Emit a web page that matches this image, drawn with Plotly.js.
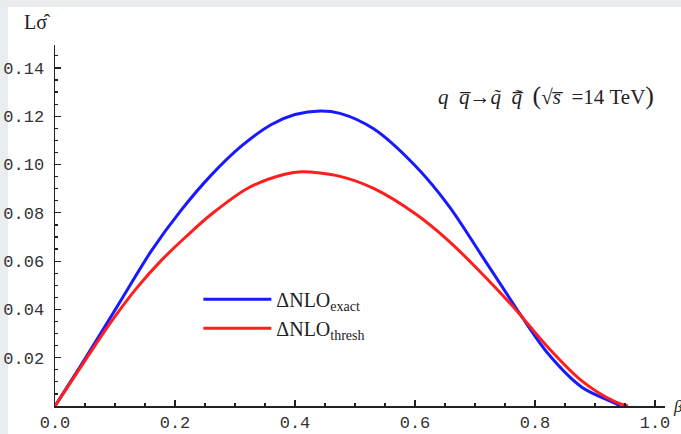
<!DOCTYPE html>
<html>
<head>
<meta charset="utf-8">
<script src="https://cdn.plot.ly/plotly-3.0.1.min.js"></script>
<style>html,body{margin:0;padding:0;background:#fff;}#chart{width:681px;height:434px;}</style>
</head>
<body>
<div id="chart"></div>
<script>
var exactX = [0, 0.05, 0.113, 0.16, 0.21, 0.26, 0.31, 0.36, 0.40, 0.442, 0.475, 0.531, 0.60, 0.656, 0.711, 0.767, 0.778, 0.822, 0.878, 0.933, 0.942];
var exactY = [0, 0.0195, 0.0450, 0.0640, 0.0810, 0.0955, 0.1075, 0.1165, 0.1207, 0.1222, 0.1212, 0.1148, 0.0996, 0.0830, 0.0624, 0.0411, 0.0370, 0.0216, 0.0078, 0.0012, 0];
var threshX = [0, 0.05, 0.0917, 0.135, 0.178, 0.22, 0.261, 0.322, 0.383, 0.411, 0.475, 0.531, 0.60, 0.656, 0.711, 0.767, 0.778, 0.822, 0.878, 0.933, 0.955];
var threshY = [0, 0.0188, 0.0342, 0.0485, 0.0605, 0.0705, 0.0795, 0.0903, 0.0960, 0.0970, 0.0951, 0.0901, 0.0797, 0.0684, 0.0550, 0.0402, 0.0370, 0.0242, 0.0104, 0.0018, 0];
var xTicks = [0, 0.2, 0.4, 0.6, 0.8, 1.0];
var xTickText = ['0.0', '0.2', '0.4', '0.6', '0.8', '1.0'];
var yTicks = [0.02, 0.04, 0.06, 0.08, 0.10, 0.12, 0.14];
var yTickText = ['0.02', '0.04', '0.06', '0.08', '0.10', '0.12', '0.14'];

var serif = 'Liberation Serif, DejaVu Serif, serif';
var mono = 'Liberation Mono, DejaVu Sans Mono, monospace';

var traces = [
  {x: exactX, y: exactY, mode: 'lines', name: 'ΔNLO<sub>exact</sub>',
   line: {color: 'rgb(25,25,255)', width: 3, shape: 'spline', smoothing: 0.9}},
  {x: threshX, y: threshY, mode: 'lines', name: 'ΔNLO<sub>thresh</sub>',
   line: {color: 'rgb(255,30,30)', width: 3, shape: 'spline', smoothing: 0.9}}
];

var nb = '\u00a0';
var layout = {
  width: 681, height: 434,
  margin: {l: 55, r: 16, t: 45, b: 28},
  paper_bgcolor: '#ffffff', plot_bgcolor: '#ffffff',
  showlegend: true,
  legend: {x: 0.235, y: 0.35, xanchor: 'left', yanchor: 'top', bgcolor: 'rgba(0,0,0,0)',
           font: {family: serif, size: 20, color: '#222'}, itemwidth: 68, tracegroupgap: 0},
  xaxis: {range: [0, 1.0167], showgrid: false, zeroline: false, showline: true, linecolor: '#222', linewidth: 1.5,
          ticks: 'inside', ticklen: 6, tickcolor: '#222', tickwidth: 1.2,
          tickvals: xTicks, ticktext: xTickText, tickfont: {family: mono, size: 17, color: '#333'},
          minor: {dtick: 0.05, tick0: 0, ticks: 'inside', ticklen: 3, tickcolor: '#222', tickwidth: 1.2},
          fixedrange: true},
  yaxis: {range: [0, 0.1495], showgrid: false, zeroline: false, showline: true, linecolor: '#222', linewidth: 1.5,
          ticks: 'inside', ticklen: 6, tickcolor: '#222', tickwidth: 1.2, ticklabelstandoff: 6,
          tickvals: yTicks, ticktext: yTickText, tickfont: {family: mono, size: 17, color: '#333'},
          minor: {dtick: 0.005, tick0: 0, ticks: 'inside', ticklen: 3, tickcolor: '#222', tickwidth: 1.2},
          fixedrange: true},
  shapes: [
    {type: 'rect', xref: 'paper', yref: 'paper', x0: -0.09, x1: -0.077, y0: -0.1, y1: 1.2, fillcolor: '#e9edf0', line: {width: 0}, layer: 'below'},
    {type: 'rect', xref: 'paper', yref: 'paper', x0: -0.09, x1: 1.04, y0: 1.105, y1: 1.2, fillcolor: '#e9edf0', line: {width: 0}, layer: 'below'}
  ],
  annotations: [
    {xref: 'paper', yref: 'paper', x: -0.028, y: 1.065, xanchor: 'center', yanchor: 'middle', showarrow: false,
     text: 'Lσ̂', font: {family: serif, size: 20, color: '#222'}},
    {xref: 'paper', yref: 'paper', x: 0.985, y: 0.86, xanchor: 'right', yanchor: 'middle', showarrow: false,
     text: '<i>q</i>' + nb + nb + '<i>q̅</i>→<i>q̃</i>' + nb + nb + '<i>q̃̅</i>' + nb + nb + '<span style="font-size:26px">(</span>√<i>s̅</i>' + nb + nb + '=14' + nb + 'TeV<span style="font-size:26px">)</span>',
     font: {family: serif, size: 21, color: '#222'}},
    {xref: 'paper', yref: 'paper', x: 1.01, y: 0.0, xanchor: 'left', yanchor: 'middle', showarrow: false,
     text: '<i>β</i>', font: {family: serif, size: 17, color: '#222'}}
  ]
};

Plotly.newPlot('chart', traces, layout, {displayModeBar: false, staticPlot: true});
</script>
</body>
</html>
